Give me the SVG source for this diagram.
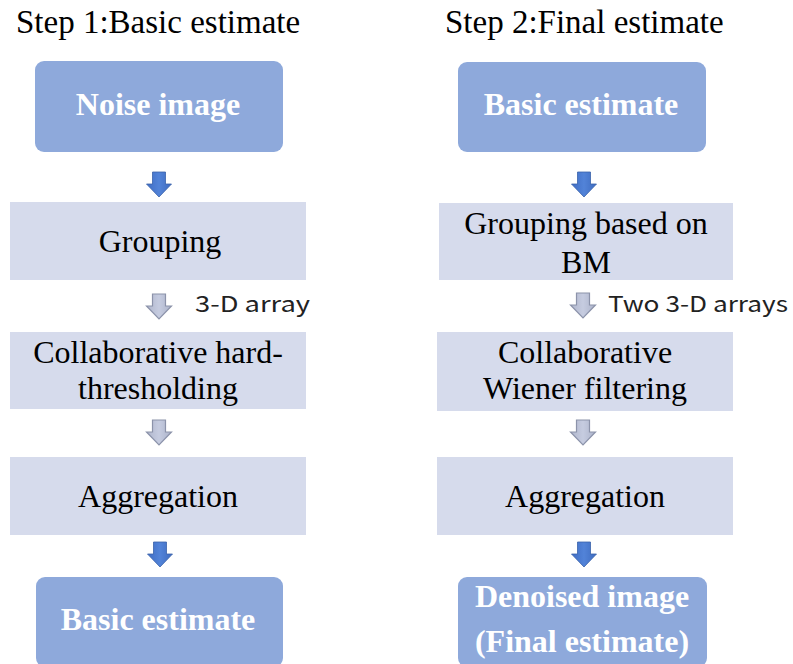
<svg xmlns="http://www.w3.org/2000/svg" xmlns:xlink="http://www.w3.org/1999/xlink" width="793" height="664" viewBox="0 0 793 664">
<style>
.title{font-family:"Liberation Serif",serif;font-size:33px;fill:#000}
.dark{fill:#8EA9DB}
.light{fill:#D6DBEC}
.wt{font-family:"Liberation Serif",serif;font-size:32px;font-weight:bold;fill:#fff;text-anchor:middle}
.bt{font-family:"Liberation Serif",serif;font-size:32px;fill:#000;text-anchor:middle}
.lbl{font-family:"Noto Sans CJK SC","Liberation Sans",sans-serif;font-size:22px;fill:#222}
.blue{fill:url(#gb);stroke:#3A62AA;stroke-width:0.8}
.gray{fill:url(#gg);stroke:#8C93AA;stroke-width:1.2}
</style>
<defs>
<linearGradient id="gb" x1="0" y1="0" x2="1" y2="0">
<stop offset="0" stop-color="#3F6DC4"/><stop offset="0.5" stop-color="#5283D8"/><stop offset="1" stop-color="#3E6BBF"/>
</linearGradient>
<linearGradient id="gg" x1="0" y1="0" x2="1" y2="0">
<stop offset="0" stop-color="#B0B6CC"/><stop offset="0.5" stop-color="#C6CCE0"/><stop offset="1" stop-color="#ACB3CA"/>
</linearGradient>
<path id="arr" d="M-6.5,0 H6.5 V12 H12.5 L0,25 L-12.5,12 H-6.5 Z"/>
</defs>
<text class="title" x="16" y="33">Step 1:Basic estimate</text>
<text class="title" x="445" y="33">Step 2:Final estimate</text>

<g id="n_noise">
<rect class="dark" x="35" y="61" width="248" height="91" rx="9"/>
<text class="wt" x="158" y="115">Noise image</text>
</g>
<g id="n_group1">
<rect class="light" x="10" y="202" width="296" height="78"/>
<text class="bt" x="160" y="252">Grouping</text>
</g>
<g id="n_collab1">
<rect class="light" x="10" y="332" width="296" height="77"/>
<text class="bt" x="158" y="363">Collaborative hard-</text>
<text class="bt" x="158" y="399">thresholding</text>
</g>
<g id="n_agg1">
<rect class="light" x="10" y="457" width="296" height="78"/>
<text class="bt" x="158" y="507">Aggregation</text>
</g>
<g id="n_basic1">
<rect class="dark" x="36" y="577" width="247" height="90" rx="9"/>
<text class="wt" x="158" y="630">Basic estimate</text>
</g>

<g id="n_basic2">
<rect class="dark" x="458" y="62" width="248" height="90" rx="9"/>
<text class="wt" x="581" y="115">Basic estimate</text>
</g>
<g id="n_group2">
<rect class="light" x="439" y="203" width="294" height="77"/>
<text class="bt" x="586" y="234">Grouping based on</text>
<text class="bt" x="586" y="273">BM</text>
</g>
<g id="n_collab2">
<rect class="light" x="437" y="332" width="296" height="79"/>
<text class="bt" x="585" y="363">Collaborative</text>
<text class="bt" x="585" y="399">Wiener filtering</text>
</g>
<g id="n_agg2">
<rect class="light" x="437" y="457" width="296" height="78"/>
<text class="bt" x="585" y="507">Aggregation</text>
</g>
<g id="n_denoised">
<rect class="dark" x="458" y="577" width="249" height="90" rx="9"/>
<text class="wt" x="582" y="607">Denoised image</text>
<text class="wt" x="582" y="652">(Final estimate)</text>
</g>

<g id="connectors">
<use xlink:href="#arr" class="blue" transform="translate(159,172)"/>
<use xlink:href="#arr" class="gray" transform="translate(159,294)"/>
<use xlink:href="#arr" class="gray" transform="translate(159,420)"/>
<use xlink:href="#arr" class="blue" transform="translate(160,542)"/>
<use xlink:href="#arr" class="blue" transform="translate(584,172)"/>
<use xlink:href="#arr" class="gray" transform="translate(583,293)"/>
<use xlink:href="#arr" class="gray" transform="translate(583,420)"/>
<use xlink:href="#arr" class="blue" transform="translate(584,542)"/>
<text class="lbl" x="195" y="312" textLength="115" lengthAdjust="spacingAndGlyphs">3-D array</text>
<text class="lbl" x="608" y="312" textLength="180" lengthAdjust="spacingAndGlyphs">Two 3-D arrays</text>
</g>
</svg>
